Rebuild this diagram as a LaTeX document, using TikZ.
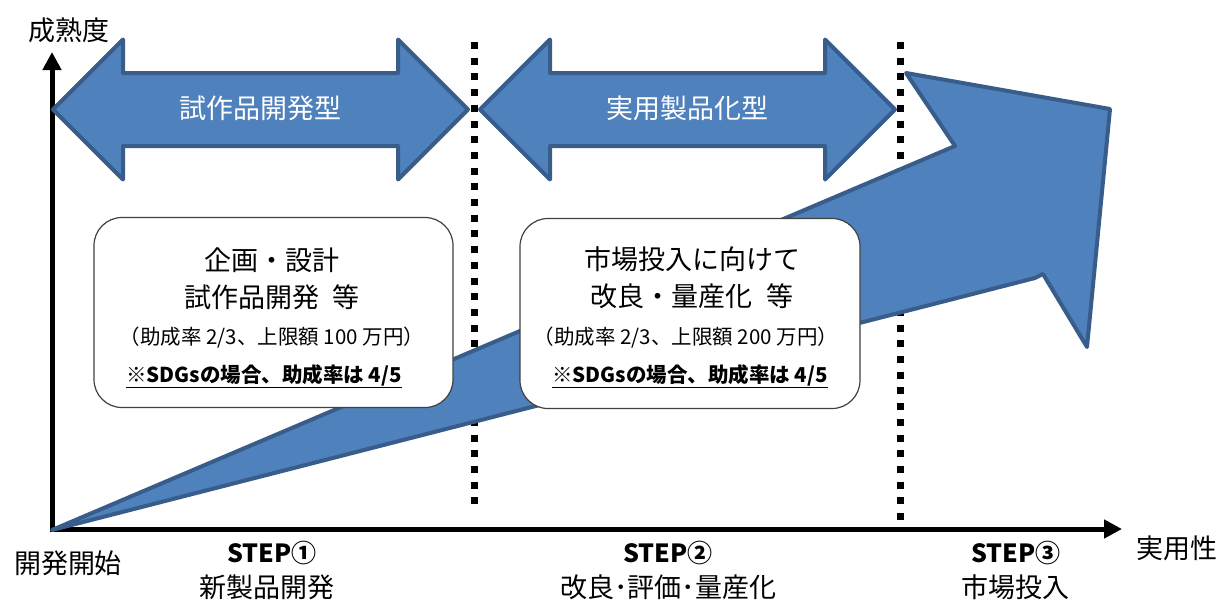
\documentclass[tikz,border=0pt]{standalone}
\usepackage{fontspec}
\setmainfont{Noto Sans CJK JP}
\usetikzlibrary{arrows.meta,shapes.arrows}

\definecolor{phaseblue}{RGB}{79,129,189}
\definecolor{phaseline}{RGB}{56,93,138}

\tikzset{
  phase/.style={double arrow, fill=phaseblue, draw=phaseline, line width=4pt,
    line join=round, double arrow head extend=33.5pt, minimum height=415pt,
    inner xsep=0pt, inner ysep=0pt, text height=43.5pt, text depth=25.5pt,
    text=white, font=\fontsize{27}{27}\selectfont},
  infobox/.style={draw=black!75, fill=white, line width=1.2pt, rounded corners=28pt,
    minimum width=359pt, minimum height=190pt},
  boxtitle/.style={align=center, font=\fontsize{27}{37}\selectfont},
  boxrate/.style={font=\fontsize{20.5}{22}\selectfont},
  boxsdg/.style={font=\bfseries\fontsize{20.5}{22}\selectfont},
  steplabel/.style={font=\bfseries\fontsize{25}{25}\selectfont},
  axislabel/.style={font=\fontsize{27}{27}\selectfont},
  border/.style={line width=7pt, dash pattern=on 7pt off 8.7pt}
}

\begin{document}
\begin{tikzpicture}[x=1pt, y=-1pt]
  \useasboundingbox (0,0) rectangle (1224,600);

  % axes
  \draw[line width=5pt, {Triangle[length=18pt,width=18pt]}-{Triangle[length=18pt,width=18pt]}]
    (52,52) -- (52,529) -- (1122,529);
  \node[axislabel] (maturity) at (69,30) {成熟度};
  \node[axislabel] (practical) at (1177,548) {実用性};
  \node[axislabel] (start) at (68,563) {開発開始};

  % phase borders
  \draw[border] (474,42) -- (474,512);
  \draw[border] (900,42) -- (900,525);

  % rising arrow
  \draw[fill=phaseblue, draw=phaseline, line width=4pt, line join=round]
    (52,530) -- (955,146) -- (906,73) -- (1110,109) -- (1087,347)
    -- (1043,274) -- (1035,278) -- cycle;

  % support types
  \node[phase] (prototype) at (260.5,109.5) {試作品開発型};
  \node[phase] (product) at (687.5,109.5) {実用製品化型};

  % STEP 1 box
  \node[infobox] (box1) at (273.5,312.5) {};
  \node[boxtitle] (title1) at (272,278.5) {企画・設計\\試作品開発\hspace{0.5em}等};
  \node[boxrate] (rate1) at (272,338) {（助成率 2/3、上限額 100 万円）};
  \node[boxsdg] (sdg1) at (264,376) {\underline{※SDGsの場合、助成率は 4/5}};

  % STEP 2 box
  \node[infobox, minimum width=340pt] (box2) at (690,313.5) {};
  \node[boxtitle] (title2) at (692,277.5) {市場投入に向けて\\改良・量産化\hspace{0.5em}等};
  \node[boxrate] (rate2) at (686,338) {（助成率 2/3、上限額 200 万円）};
  \node[boxsdg] (sdg2) at (690,376) {\underline{※SDGsの場合、助成率は 4/5}};

  % steps
  \node[steplabel] (step1) at (272,553) {STEP①};
  \node[axislabel] (stage1) at (267,587) {新製品開発};
  \node[steplabel] (step2) at (668,553) {STEP②};
  \node[axislabel] (stage2) at (668,587) {改良･評価･量産化};
  \node[steplabel] (step3) at (1016,553) {STEP③};
  \node[axislabel] (stage3) at (1015,587) {市場投入};
\end{tikzpicture}
\end{document}
